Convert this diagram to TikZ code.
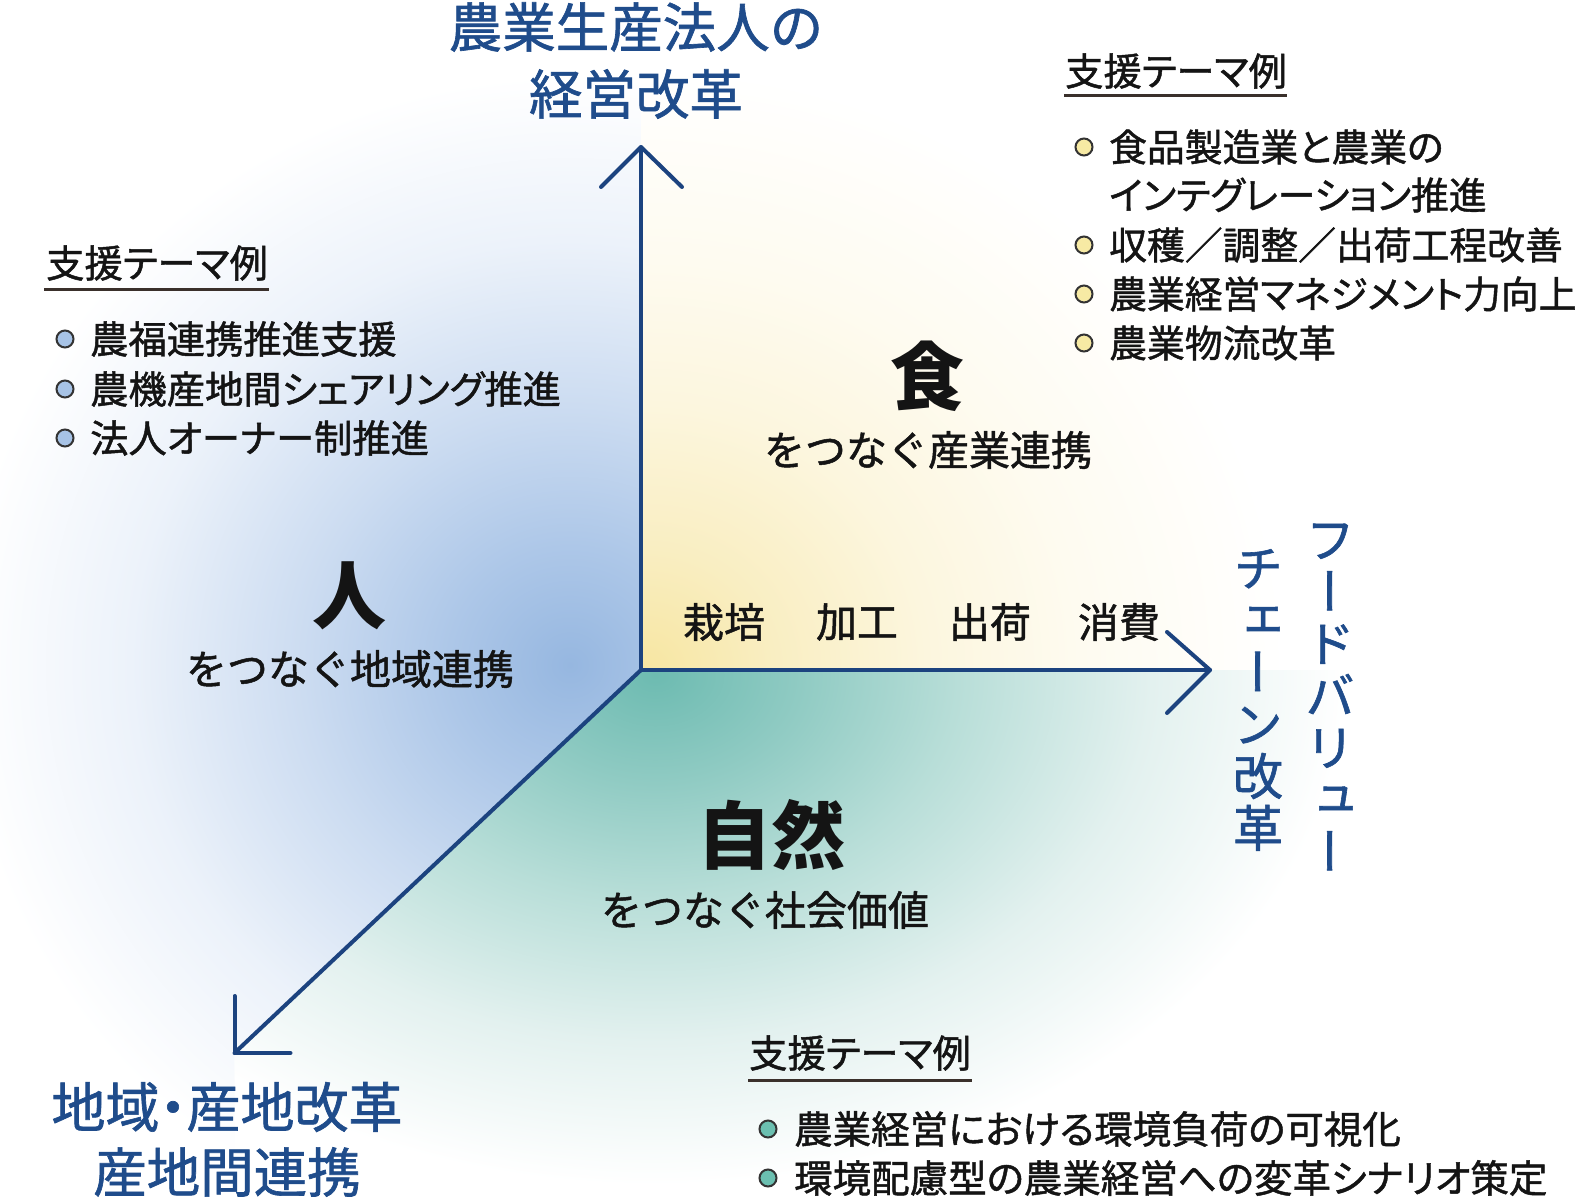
\documentclass[tikz,border=0pt]{standalone}
\usepackage{fontspec}
\newfontfamily\jp{Noto Sans CJK JP}
\newfontfamily\jpm[FakeBold=1.2]{Noto Sans CJK JP}
\newfontfamily\jpp[FakeBold=1.2,RawFeature=+palt]{Noto Sans CJK JP}
\newfontfamily\jpv[RawFeature=+vert,FakeBold=1.2]{Noto Sans CJK JP}
\definecolor{axisc}{HTML}{1C437F}
\definecolor{titlec}{HTML}{1F4C8B}
\definecolor{textc}{HTML}{141414}
\definecolor{ulc}{HTML}{3A302B}
\definecolor{bulc}{HTML}{333333}
\definecolor{bfill}{HTML}{A7C3E6}
\definecolor{yfill}{HTML}{F7EAA4}
\definecolor{tfill}{HTML}{6BBFB0}
\definecolor{bg0}{HTML}{96B7E0}
\definecolor{bg1}{HTML}{ADC7E8}
\definecolor{bg2}{HTML}{CCDCF1}
\definecolor{bg3}{HTML}{ECF2FA}
\definecolor{yg0}{HTML}{F7E6A2}
\definecolor{yg1}{HTML}{F9EEC2}
\definecolor{yg2}{HTML}{FCF6DE}
\definecolor{yg3}{HTML}{FEFBF0}
\definecolor{tg0}{HTML}{6DBBB1}
\definecolor{tg1}{HTML}{8ECAC2}
\definecolor{tg2}{HTML}{B8DED8}
\definecolor{tg3}{HTML}{E3F1EF}
\pgfdeclareradialshading{blueglow}{\pgfpoint{0bp}{0bp}}{color(0bp)=(bg0); color(5bp)=(bg1); color(11bp)=(bg2); color(18bp)=(bg3); color(25bp)=(white); color(50bp)=(white)}
\pgfdeclareradialshading{yellowglow}{\pgfpoint{0bp}{0bp}}{color(0bp)=(yg0); color(5bp)=(yg1); color(11bp)=(yg2); color(17bp)=(yg3); color(25bp)=(white); color(50bp)=(white)}
\pgfdeclareradialshading{tealglow}{\pgfpoint{0bp}{0bp}}{color(0bp)=(tg0); color(5bp)=(tg1); color(11bp)=(tg2); color(18bp)=(tg3); color(25bp)=(white); color(50bp)=(white)}
\tikzset{
  axisline/.style={draw=axisc, line width=4pt, line cap=round, line join=round},
  ttl/.style={text=titlec, font=\jpm\fontsize{53.5}{60}\selectfont, inner sep=0pt},
  ttlp/.style={text=titlec, font=\jpp\fontsize{54}{60}\selectfont, inner sep=0pt},
  vtxt/.style={text=titlec, font=\jpv\fontsize{50}{52}\selectfont, align=center, inner sep=0pt},
  hdr/.style={anchor=west, text=textc, font=\jpp\fontsize{38.3}{42}\selectfont, inner sep=0pt},
  lst/.style={anchor=west, text=textc, font=\jpp\fontsize{38.3}{42}\selectfont, inner sep=0pt},
  lstr/.style={anchor=west, text=textc, font=\jpp\fontsize{37.8}{42}\selectfont, inner sep=0pt},
  lstb/.style={anchor=west, text=textc, font=\jpp\fontsize{38.5}{42}\selectfont, inner sep=0pt},
  bigc/.style={text=textc, font=\jp\bfseries\fontsize{74}{80}\selectfont, inner sep=0pt},
  subc/.style={text=textc, font=\jpm\fontsize{41}{45}\selectfont, inner sep=0pt},
  bul/.style={circle, draw=bulc, line width=2pt, minimum size=17pt, inner sep=0pt},
  uline/.style={draw=ulc, line width=3pt}
}
\begin{document}
\begin{tikzpicture}[x=1pt,y=-1pt]
\useasboundingbox (0,0) rectangle (1585,1201);
\fill[white] (0,0) rectangle (1585,1201);
% background glows
\begin{scope}
\clip (641,670) -- (641,-100) -- (-100,-100) -- (-100,1300) -- (234.5,1300) -- (234.5,1053) -- cycle;
\shade[shading=blueglow] (570,665) ellipse [x radius=610pt, y radius=590pt];
\end{scope}
\begin{scope}
\clip (641,670) -- (641,-100) -- (1700,-100) -- (1700,670) -- cycle;
\shade[shading=yellowglow] (645,668) ellipse [x radius=640pt, y radius=600pt];
\end{scope}
\begin{scope}
\clip (641,670) -- (1700,670) -- (1700,1300) -- (234.5,1300) -- (234.5,1053) -- cycle;
\shade[shading=tealglow] (655,675) ellipse [x radius=690pt, y radius=510pt];
\end{scope}
% axes
\coordinate (O) at (641,670);
\coordinate (T) at (641,147);
\coordinate (R) at (1210,670);
\coordinate (B) at (234.5,1053);
\draw[axisline] (O) -- (T);
\draw[axisline] ([shift={(-40,40)}]T) -- (T) -- ([shift={(41,40)}]T);
\draw[axisline] (O) -- (R);
\draw[axisline] ([shift={(-43,-38)}]R) -- (R) -- ([shift={(-43,43)}]R);
\draw[axisline] (O) -- (B);
\draw[axisline] ([shift={(0,-57)}]B) -- (B) -- ([shift={(56,0)}]B);
% axis titles
\node[ttl] (t1) at (636,27) {農業生産法人の};
\node[ttl] (t2) at (636,94) {経営改革};
\node[ttlp] (b1) at (227,1107) {地域・産地改革};
\node[ttl] (b2) at (227,1172) {産地間連携};
\node[vtxt] (v1) at (1330,697) {フ\\ー\\ド\\バ\\リ\\ュ\\ー};
\node[vtxt] (v2) at (1258,700) {チ\\ェ\\ー\\ン\\改\\革};
% big labels
\node[bigc] (shoku) at (927,376) {食};
\node[subc] (shokus) at (928,450) {をつなぐ産業連携};
\node[bigc] (hito) at (349,596) {人};
\node[subc] (hitos) at (350,669) {をつなぐ地域連携};
\node[bigc] (shizen) at (771,835) {自然};
\node[subc] (shizens) at (765,910) {をつなぐ社会価値};
% chain
\node[subc] (c1) at (724,622) {栽培};
\node[subc] (c2) at (857,622) {加工};
\node[subc] (c3) at (990,622) {出荷};
\node[subc] (c4) at (1119,622) {消費};
% left list
\node[hdr] (lh) at (46,263) {支援テーマ例};
\draw[uline] (44,289) -- (269,289);
\node[bul, fill=bfill] (lb1) at (65,339) {};
\node[lst] (l1) at (90,339) {農福連携推進支援};
\node[bul, fill=bfill] (lb2) at (65,389) {};
\node[lst] (l2) at (90,389) {農機産地間シェアリング推進};
\node[bul, fill=bfill] (lb3) at (65,438) {};
\node[lst] (l3) at (90,438) {法人オーナー制推進};
% right list
\node[hdr] (rh) at (1065,71) {支援テーマ例};
\draw[uline] (1064,96) -- (1287,96);
\node[bul, fill=yfill] (rb1) at (1084,147) {};
\node[lstr] (r1) at (1109,147) {食品製造業と農業の};
\node[lstr] (r1b) at (1109,195) {インテグレーション推進};
\node[bul, fill=yfill] (rb2) at (1084,245) {};
\node[lstr] (r2) at (1109,245) {収穫／調整／出荷工程改善};
\node[bul, fill=yfill] (rb3) at (1084,294) {};
\node[lstr] (r3) at (1109,294) {農業経営マネジメント力向上};
\node[bul, fill=yfill] (rb4) at (1084,343) {};
\node[lstr] (r4) at (1109,343) {農業物流改革};
% bottom list
\node[hdr] (bh) at (749,1053) {支援テーマ例};
\draw[uline] (748,1080) -- (972,1080);
\node[bul, fill=tfill] (bb1) at (768,1129) {};
\node[lstb] (bl1) at (794,1129) {農業経営における環境負荷の可視化};
\node[bul, fill=tfill] (bb2) at (768,1178) {};
\node[lstb] (bl2) at (794,1178) {環境配慮型の農業経営への変革シナリオ策定};
\end{tikzpicture}
\end{document}
